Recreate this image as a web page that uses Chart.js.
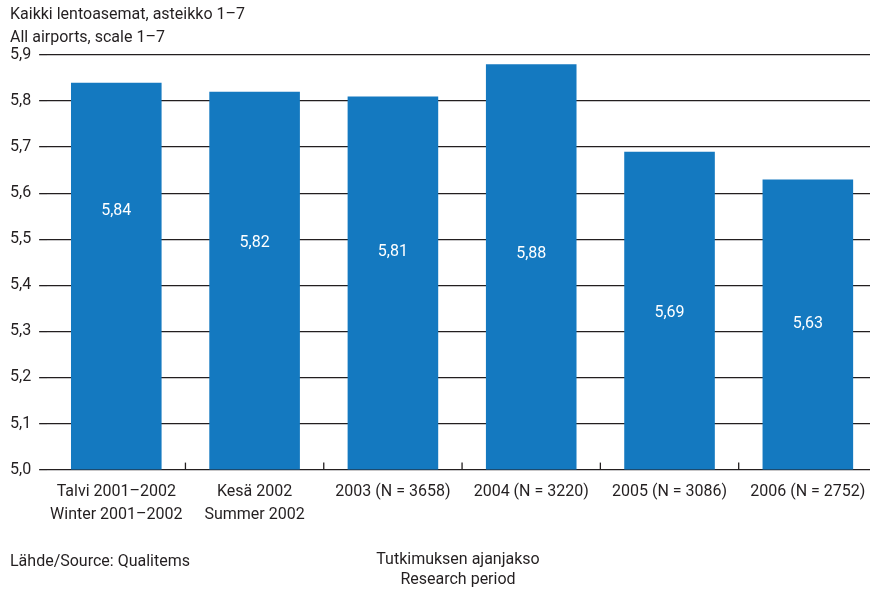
<!DOCTYPE html>
<html>
<head>
<meta charset="utf-8">
<script src="https://cdn.jsdelivr.net/npm/chart.js@4"></script>
<style>
  html, body { margin: 0; padding: 0; background: #fff; overflow: hidden; }
  body { width: 870px; height: 591px; position: relative; }
  .txt { position: absolute; font-family: Roboto, "Liberation Sans", sans-serif; font-size: 16px; color: #231f20; line-height: 23px; white-space: nowrap; }
  #wrap { position: absolute; left: 0; top: 0; width: 880px; height: 591px; }
</style>
</head>
<body>
<div id="wrap"><canvas id="chart"></canvas></div>
<div class="txt" style="left:10px; top:2px;">Kaikki lentoasemat, asteikko 1–7<br>All airports, scale 1–7</div>
<div class="txt" style="left:10px; top:549px;">Lähde/Source: Qualitems</div>
<div class="txt" style="left:358px; width:200px; top:549px; text-align:center; line-height:20px;">Tutkimuksen ajanjakso<br>Research period</div>
<script>
// Tutkimusjaksot ja arvot
const categories = [
    ['Talvi 2001–2002', 'Winter 2001–2002'],
    ['Kesä 2002', 'Summer 2002'],
    '2003 (N = 3658)',
    '2004 (N = 3220)',
    '2005 (N = 3086)',
    '2006 (N = 2752)'
];
const values = [5.84, 5.82, 5.81, 5.88, 5.69, 5.63];
// kohta, jolle arvo on kirjoitettu palkin sisään (asteikon yksiköissä)
const labelPos = [5.561, 5.491, 5.472, 5.467, 5.340, 5.315];
const yTicks = [5.0, 5.1, 5.2, 5.3, 5.4, 5.5, 5.6, 5.7, 5.8, 5.9];

const fontFamily = 'Roboto, "Liberation Sans", sans-serif';
const textColor = '#231f20';

// arvot palkkien sisään
const barLabels = {
    id: 'barLabels',
    afterDatasetsDraw(chart) {
        const ctx = chart.ctx;
        const meta = chart.getDatasetMeta(0);
        const y = chart.scales.y;
        ctx.save();
        ctx.fillStyle = '#fff';
        ctx.font = '16px ' + fontFamily;
        ctx.textAlign = 'center';
        ctx.textBaseline = 'middle';
        meta.data.forEach((bar, i) => {
            ctx.fillText(values[i].toFixed(2).replace('.', ','), bar.x, y.getPixelForValue(labelPos[i]));
        });
        ctx.restore();
    }
};

// pienet väliviivat luokkien välissä
const catTicks = {
    id: 'catTicks',
    afterDraw(chart) {
        const ctx = chart.ctx;
        const x = chart.scales.x;
        const bottom = chart.chartArea.bottom;
        ctx.save();
        ctx.strokeStyle = '#231f20';
        ctx.lineWidth = 1.3;
        for (let i = 1; i < categories.length; i++) {
            const px = (x.getPixelForValue(i - 1) + x.getPixelForValue(i)) / 2;
            ctx.beginPath();
            ctx.moveTo(px, bottom - 7);
            ctx.lineTo(px, bottom);
            ctx.stroke();
        }
        ctx.restore();
    }
};

new Chart(document.getElementById('chart'), {
    type: 'bar',
    data: {
        labels: categories,
        datasets: [{
            data: values,
            backgroundColor: '#1479c0',
            categoryPercentage: 1,
            barPercentage: 0.655
        }]
    },
    options: {
        responsive: true,
        maintainAspectRatio: false,
        animation: false,
        layout: { padding: { left: 2, right: 3, top: 55, bottom: 61 } },
        plugins: {
            legend: { display: false },
            tooltip: { enabled: false }
        },
        scales: {
            x: {
                grid: { display: false },
                border: { display: false },
                ticks: {
                    color: textColor,
                    font: { family: fontFamily, size: 16, lineHeight: 1.45 },
                    padding: 3,
                    maxRotation: 0,
                    autoSkip: false
                }
            },
            y: {
                min: 5.0,
                max: 5.9,
                afterBuildTicks: (axis) => { axis.ticks = yTicks.map(v => ({ value: v })); },
                grid: { color: '#231f20', lineWidth: 1.3, tickLength: 8 },
                border: { display: false },
                ticks: {
                    color: textColor,
                    font: { family: fontFamily, size: 16 },
                    padding: 8,
                    callback: (v) => Number(v).toFixed(1).replace('.', ',')
                }
            }
        }
    },
    plugins: [barLabels, catTicks]
});
</script>
</body>
</html>
